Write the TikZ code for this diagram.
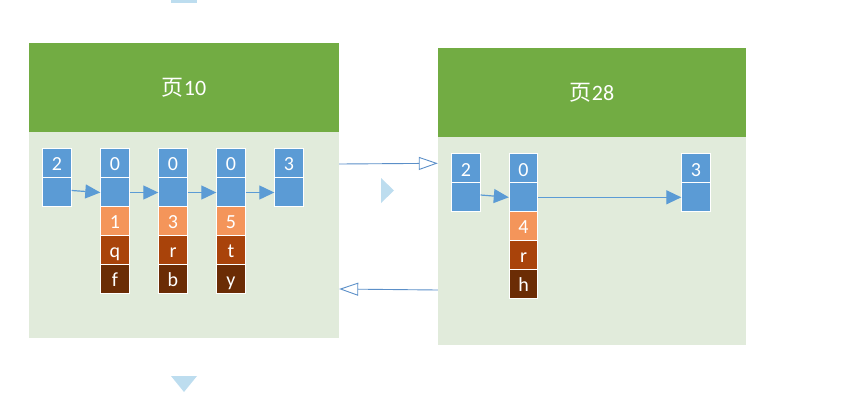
\documentclass[tikz,border=0pt]{standalone}
\usepackage{fontspec}
\setmainfont{Carlito}
\newfontfamily\cjk{Noto Sans CJK SC}
\usetikzlibrary{arrows.meta}
\definecolor{hdrgreen}{HTML}{72AC43}
\definecolor{bodygreen}{HTML}{E1EBDB}
\definecolor{cellblue}{HTML}{5B9BD5}
\definecolor{cellorange}{HTML}{F4955A}
\definecolor{cellbrown}{HTML}{A9430A}
\definecolor{celldark}{HTML}{6B2C05}
\definecolor{linkblue}{HTML}{5B8FC8}
\definecolor{decoblue}{HTML}{BDDDEF}
\begin{document}
\begin{tikzpicture}[x=1pt,y=-1pt,
  hdr/.style={fill=hdrgreen,draw=none,inner sep=0,text=white,font=\fontsize{22}{26}\selectfont},
  pagebody/.style={fill=bodygreen,draw=none,inner sep=0},
  cell/.style={draw=white,line width=0.8pt,minimum width=28.6pt,minimum height=29pt,inner sep=0,text=white,text height=16pt,text depth=0pt,font=\fontsize{20}{24}\selectfont},
  bluecell/.style={cell,fill=cellblue},
  orangecell/.style={cell,fill=cellorange},
  browncell/.style={cell,fill=cellbrown},
  darkcell/.style={cell,fill=celldark},
  nextlink/.style={draw=cellblue,line width=1.2pt,-{Triangle[length=15pt,width=14pt]},shorten <=0pt},
  pagelink/.style={draw=linkblue,line width=0.9pt,-{Triangle[open,length=19pt,width=13pt,line width=0.9pt]}},
  deco/.style={fill=decoblue,draw=none}]
\useasboundingbox (0,0) rectangle (857,413);
% decorative light blue marks
\fill[deco] (171,0) rectangle (197,2.5);
\fill[deco] (171,376) -- (197,376) -- (184,392) -- cycle;
\fill[deco] (381,178) -- (381,203) -- (394,190.5) -- cycle;
% page 10
\node[hdr,minimum width=310pt,minimum height=89pt] (p10h) at (184,87.5) {{\cjk 页}10};
\node[pagebody,minimum width=310pt,minimum height=206pt] (p10b) at (184,235) {};
% page 28
\node[hdr,minimum width=308pt,minimum height=89pt] (p28h) at (592,92.5) {{\cjk 页}28};
\node[pagebody,minimum width=308pt,minimum height=208pt] (p28b) at (592,241) {};
% page 10 records
\node[bluecell] (la) at (57,162.5) {2};
\node[bluecell] (lab) at (57,191.5) {};
\node[bluecell] (lb) at (115,162.5) {0};
\node[bluecell] (lbb) at (115,191.5) {};
\node[orangecell] (lbo) at (115,220.5) {1};
\node[browncell] (lbr) at (115,249.5) {q};
\node[darkcell] (lbd) at (115,278.5) {f};
\node[bluecell] (lc) at (173,162.5) {0};
\node[bluecell] (lcb) at (173,191.5) {};
\node[orangecell] (lco) at (173,220.5) {3};
\node[browncell] (lcr) at (173,249.5) {r};
\node[darkcell] (lcd) at (173,278.5) {b};
\node[bluecell] (ld) at (231,162.5) {0};
\node[bluecell] (ldb) at (231,191.5) {};
\node[orangecell] (ldo) at (231,220.5) {5};
\node[browncell] (ldr) at (231,249.5) {t};
\node[darkcell] (ldd) at (231,278.5) {y};
\node[bluecell] (le) at (289,162.5) {3};
\node[bluecell] (leb) at (289,191.5) {};
\draw[nextlink] ([yshift=1pt]lab.east) -- ([yshift=-1pt]lbb.west);
\draw[nextlink] ([yshift=-1pt]lbb.east) -- ([yshift=-1pt]lcb.west);
\draw[nextlink] ([yshift=-1pt]lcb.east) -- ([yshift=-1pt]ldb.west);
\draw[nextlink] ([yshift=-1pt]ldb.east) -- ([yshift=-1pt]leb.west);
% page 28 records
\node[bluecell] (ra) at (466,168) {2};
\node[bluecell] (rab) at (466,196.5) {};
\node[bluecell] (rb) at (523.5,168) {0};
\node[bluecell] (rbb) at (523.5,196.5) {};
\node[orangecell] (rbo) at (523.5,225.5) {4};
\node[browncell] (rbr) at (523.5,254.5) {r};
\node[darkcell] (rbd) at (523.5,283.5) {h};
\node[bluecell] (rc) at (696,168) {3};
\node[bluecell] (rcb) at (696,196.5) {};
\draw[nextlink] ([yshift=1.5pt]rab.east) -- ([yshift=-0.8pt]rbb.west);
\draw[nextlink] ([yshift=-0.8pt]rbb.east) -- ([yshift=-0.8pt]rcb.west);
% page links
\draw[pagelink] ([yshift=71pt]p10b.east) -- ([yshift=77.7pt]p28b.west);
\draw[pagelink] ([yshift=-49pt]p28b.west) -- ([yshift=-54pt]p10b.east);
\end{tikzpicture}
\end{document}
